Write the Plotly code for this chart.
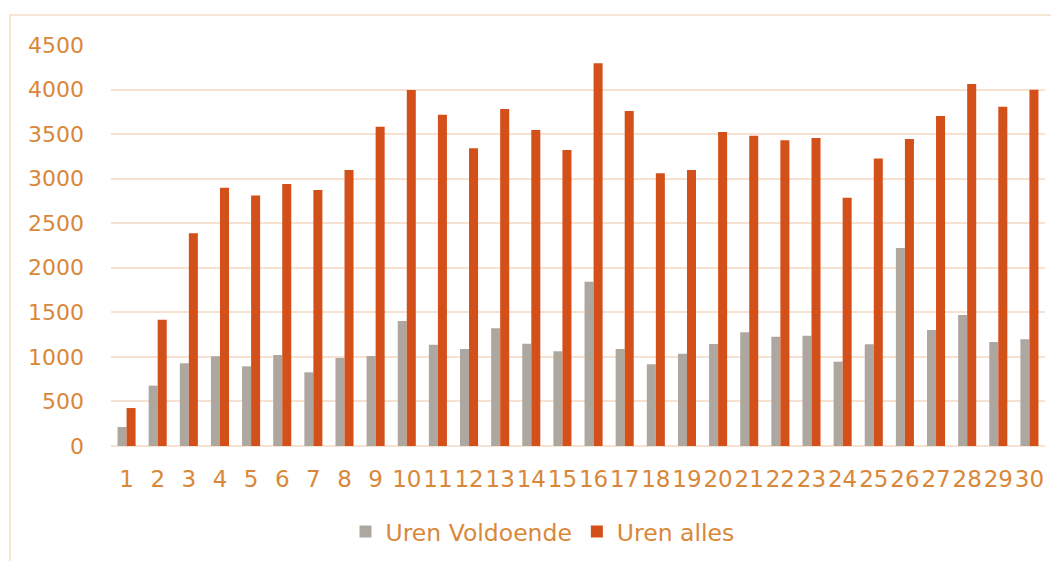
import plotly.graph_objects as go

categories = [str(i) for i in range(1, 31)]
uren_voldoende = [213, 677, 928, 1006, 894, 1021, 827, 988, 1010, 1403,
                  1137, 1089, 1321, 1148, 1063, 1844, 1089, 917, 1036, 1145,
                  1276, 1227, 1238, 946, 1141, 2222, 1302, 1470, 1167, 1197]
uren_alles = [426, 1418, 2387, 2899, 2810, 2940, 2873, 3098, 3584, 3996,
              3718, 3341, 3782, 3547, 3322, 4295, 3760, 3060, 3098, 3524,
              3483, 3431, 3457, 2787, 3225, 3446, 3704, 4063, 3808, 3999]
y_ticks = [0, 500, 1000, 1500, 2000, 2500, 3000, 3500, 4000, 4500]

TEXT = "#D9873A"
GRID = "#F7E2D2"
FONT = "DejaVu Sans"

fig = go.Figure()
fig.add_trace(go.Bar(x=categories, y=uren_voldoende, name="Uren Voldoende",
                     marker=dict(color="#AEA7A0", line=dict(width=0))))
fig.add_trace(go.Bar(x=categories, y=uren_alles, name="Uren alles",
                     marker=dict(color="#D4501A", line=dict(width=0))))

fig.update_layout(
    width=1051, height=553,
    margin=dict(l=103, r=14, t=37, b=115, autoexpand=False),
    paper_bgcolor="white", plot_bgcolor="white",
    barmode="group", bargap=0.42, bargroupgap=0,
    font=dict(family=FONT, size=22, color=TEXT),
    showlegend=True,
    legend=dict(orientation="h", x=0.462, xanchor="center", y=-0.214, yanchor="middle",
                font=dict(family=FONT, size=23.5, color=TEXT), itemwidth=30,
                traceorder="normal"),
    xaxis=dict(type="category", showgrid=False, showline=False, zeroline=False,
               ticks="", tickfont=dict(family=FONT, size=23, color=TEXT),
               ticklabelstandoff=17, tickangle=0),
    yaxis=dict(range=[0, 4500], tickvals=y_ticks, showgrid=True, gridcolor=GRID,
               gridwidth=1.5, zeroline=True, zerolinecolor=GRID, zerolinewidth=1.5,
               showline=False, ticks="", tickfont=dict(family=FONT, size=22, color=TEXT),
               ticklabelstandoff=26),
    shapes=[dict(type="rect", xref="paper", yref="paper",
                 x0=-0.108, x1=1.2, y0=-0.6, y1=1.0748,
                 line=dict(color="#F4DEC9", width=1.5), fillcolor="rgba(0,0,0,0)",
                 layer="below")],
)

fig.write_html("out.html")
